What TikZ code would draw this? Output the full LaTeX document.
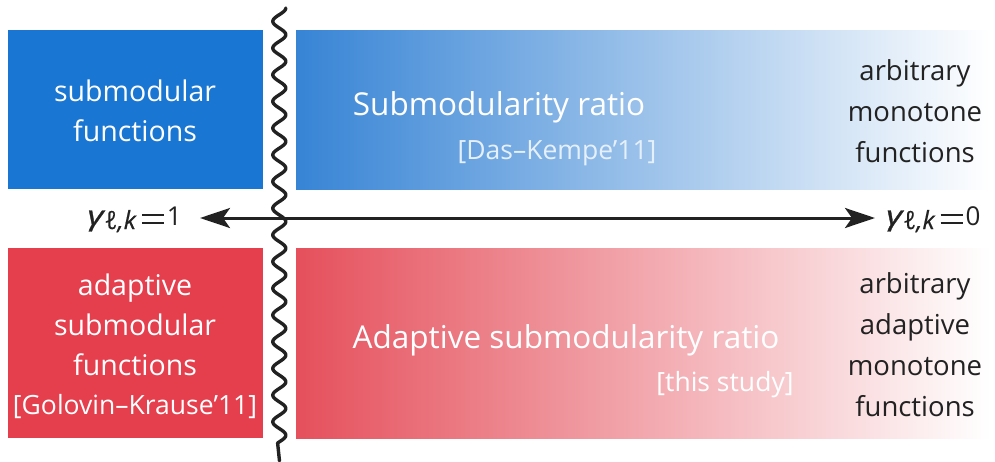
\documentclass[tikz,border=0pt]{standalone}
\usepackage{graphicx}
\usepackage{fontspec}
\setmainfont{Open Sans}
\newfontfamily\gamfont{Open Sans Italic}[FakeBold=1]
\newfontfamily\subfont{Open Sans Italic}[FakeBold=0.4]
\usetikzlibrary{arrows.meta}
\definecolor{solidblue}{HTML}{1976D2}
\definecolor{gradblue}{HTML}{3784D5}
\definecolor{solidred}{HTML}{E53E4C}
\definecolor{gradred}{HTML}{E5505C}
\definecolor{darktext}{HTML}{222222}
\definecolor{citeblue}{HTML}{E6F0FA}
% wide, heavy equals sign built from two rules
\newcommand{\eqbars}{\rlap{\rule[8.8pt]{22pt}{2.3pt}}\rule[0.8pt]{22pt}{2.3pt}}
\newcommand{\gammalab}[1]{{\fontsize{27}{30}\gamfont\scalebox{1.3}[1]{γ}}\hspace{1pt}\raisebox{-4pt}{\fontsize{25}{25}\subfont ℓ,k}\hspace{6pt}\eqbars\hspace{3pt}#1}
\tikzset{
  box/.style={anchor=north west, inner sep=0pt, outer sep=0pt},
  lefttext/.style={font=\fontsize{28.5}{40}\selectfont, align=center, inner sep=0pt},
  title/.style={font=\fontsize{31.5}{40}\selectfont, align=center, inner sep=0pt},
  righttext/.style={font=\fontsize{27.5}{41}\selectfont, align=center, inner sep=0pt, text=darktext},
  cite/.style={font=\fontsize{26.5}{30}\selectfont, align=center, inner sep=0pt},
  gam/.style={font=\fontsize{26}{30}\selectfont, inner sep=0pt, text=darktext},
}
\begin{document}
\begin{tikzpicture}[x=1pt,y=-1pt]
\useasboundingbox (0,0) rectangle (995,461);
% four panels
\node[box, fill=solidblue, minimum width=255pt, minimum height=159pt] (subbox) at (8,30) {};
\node[box, left color=gradblue, right color=white, minimum width=694pt, minimum height=159pt] (ratiobox) at (296,30) {};
\node[box, fill=solidred, minimum width=255pt, minimum height=190pt] (adabox) at (8,248) {};
\node[box, left color=gradred, right color=white, minimum width=694pt, minimum height=190pt] (adaratiobox) at (296,248) {};
% panel texts
\node[lefttext, text=white] (sub) at (135,111) {submodular\\functions};
\node[title, text=white] (ratio) at (499,107) {Submodularity ratio};
\node[cite, text=citeblue] (dk) at (557,153) {[Das–Kempe’11]};
\node[righttext] (arb) at (915,111) {arbitrary\\monotone\\functions};
\node[lefttext, text=white] (ada) at (135,325) {adaptive\\submodular\\functions};
\node[cite, text=white] (gk) at (135,407) {[Golovin–Krause’11]};
\node[title, text=white] (adaratio) at (566,340) {Adaptive submodularity ratio};
\node[cite, text=white] (ts) at (725,385) {[this study]};
\node[righttext] (arbada) at (915,345) {arbitrary\\adaptive\\monotone\\functions};
% wavy separator with a straight tail (period 26.7, 360/26.7 = 13.483 deg per unit)
\coordinate (wend) at (279.5,461);
\draw[line width=3.4pt, darktext, line cap=round, line join=round]
  plot[domain=8:443, samples=500] ({279.3+6.5*cos(13.483*(\x-8))}, \x) -- (wend);
% gamma axis
\node[gam, anchor=base east] (g1) at (182,225) {\gammalab{1}};
\node[gam, anchor=base west] (g0) at (886,225) {\gammalab{0}};
\draw[line width=3pt, darktext, {Stealth[length=30pt,width=20pt,inset=7pt]}-{Stealth[length=30pt,width=20pt,inset=7pt]}] ([xshift=18pt]g1.east |- 0,218) -- ([xshift=-11pt]g0.west |- 0,218);
\end{tikzpicture}
\end{document}
